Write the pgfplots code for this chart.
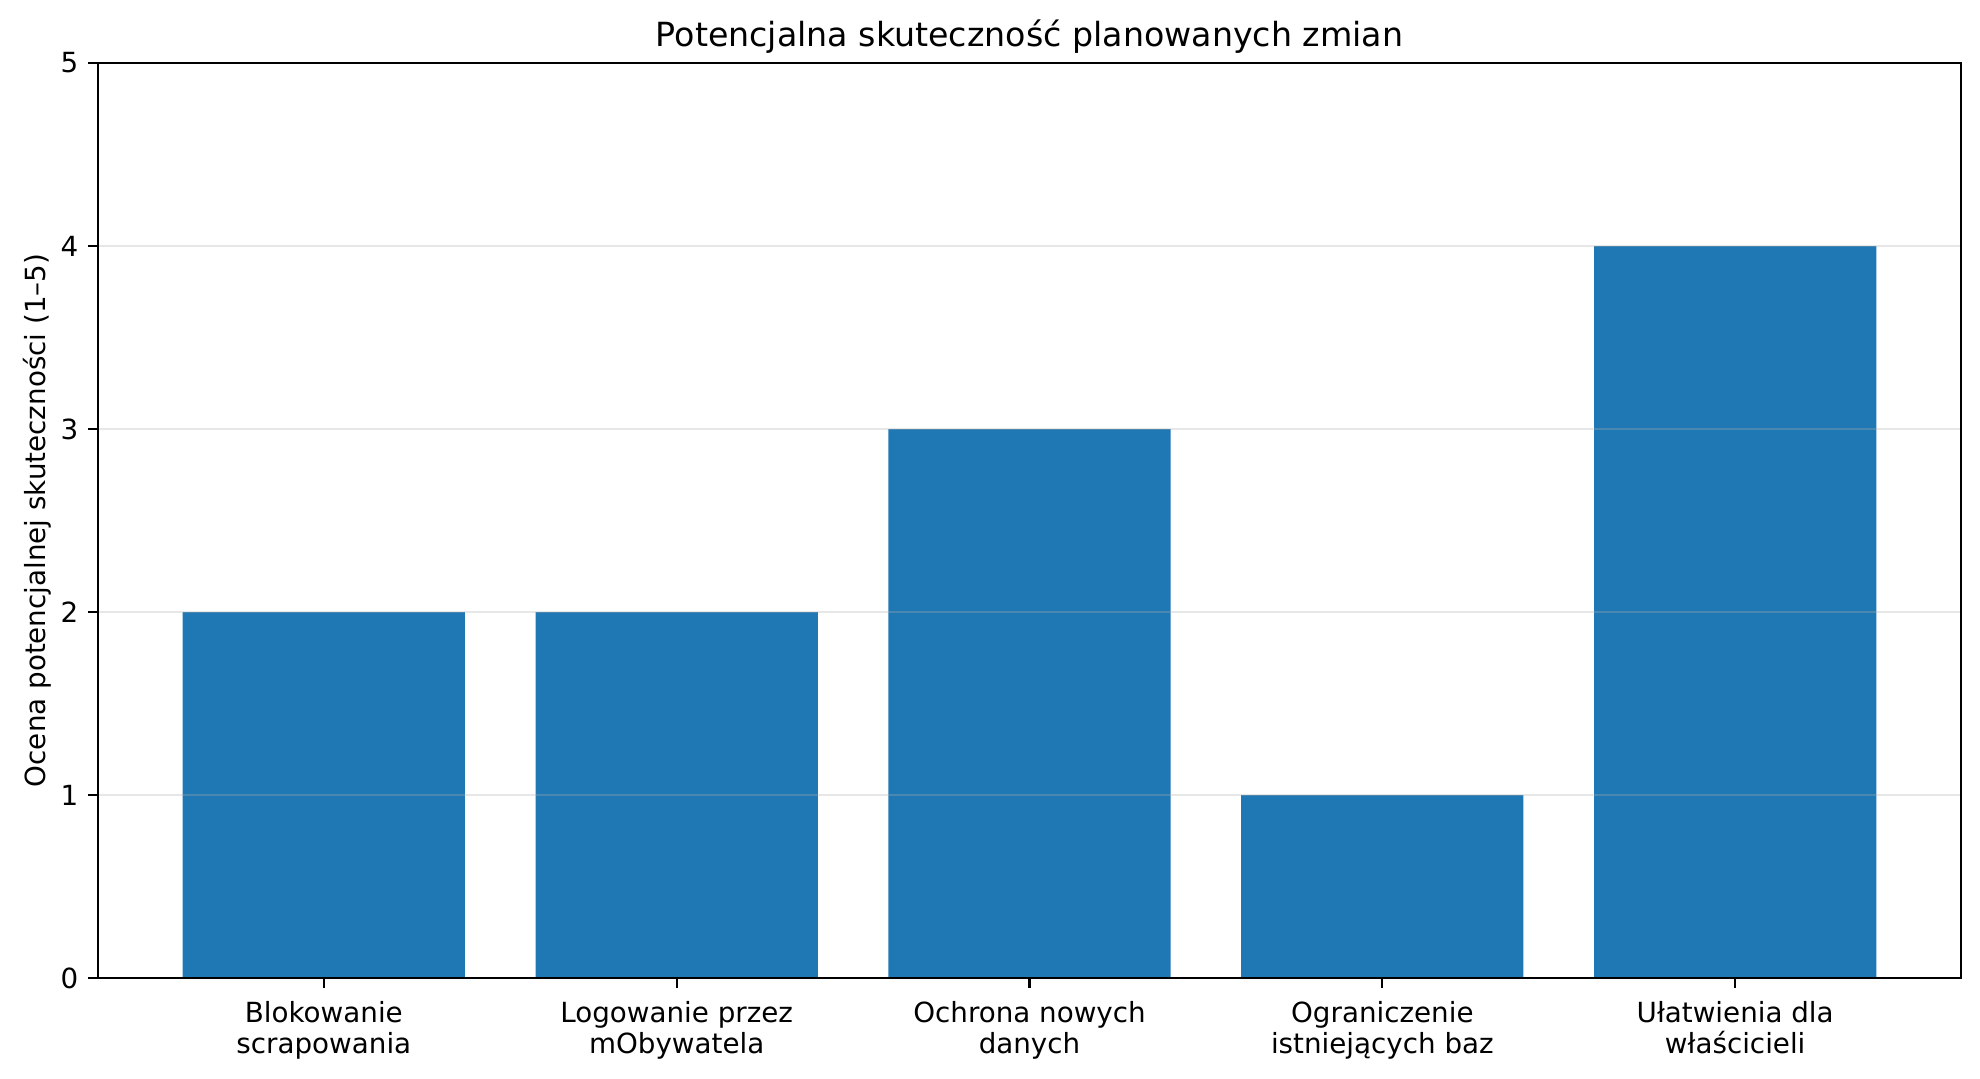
\documentclass[border=0pt]{standalone}
\usepackage{fontspec}
\setmainfont{DejaVu Sans}
\usepackage{pgfplots}
\pgfplotsset{compat=1.18}
\definecolor{barblue}{HTML}{1F77B4}
\definecolor{gridgray}{HTML}{B0B0B0}
\begin{document}
\begin{tikzpicture}
\begin{axis}[
  scale only axis, width=745.2pt, height=366pt,
  ybar, bar width=0.8,
  xmin=-0.64, xmax=4.64, ymin=0, ymax=5,
  xtick={0,...,4}, ytick={0,...,5},
  xticklabels={{Blokowanie\\scrapowania},{Logowanie przez\\mObywatela},{Ochrona nowych\\danych},{Ograniczenie\\istniejących baz},{Ułatwienia dla\\właścicieli}},
  xticklabel style={align=center, font=\fontsize{11.1}{12.2}\selectfont, inner sep=0pt, yshift=-5.3pt},
  yticklabel style={font=\fontsize{11.1}{13}\selectfont, inner sep=0pt, xshift=-3.8pt},
  tick align=outside, tick pos=left, major tick length=3.9pt,
  tick style={line width=0.9pt, black},
  axis line style={line width=0.9pt},
  ymajorgrids, grid style={line width=0.9pt, gridgray, opacity=0.3},
  axis on top,
  title={Potencjalna skuteczność planowanych zmian},
  every axis title/.style={at={(0.5,1)}, anchor=base, yshift=6.7pt, inner sep=0pt, font=\fontsize{13.3}{16}\selectfont},
  ylabel={Ocena potencjalnej skuteczności (1–5)},
  every axis y label/.style={at={(axis description cs:0,0.5)}, xshift=-18.5pt, rotate=90, anchor=south, inner sep=0pt, font=\fontsize{11.1}{13}\selectfont},
  /pgf/number format/assume math mode=true,
]
\addplot[fill=barblue, draw=none] coordinates {(0,2) (1,2) (2,3) (3,1) (4,4)};
\end{axis}
\pgfresetboundingbox
\path (current axis.south west) +(-39.2pt,-40pt) (current axis.north east) +(7.6pt,25.2pt);
\end{tikzpicture}
\end{document}
